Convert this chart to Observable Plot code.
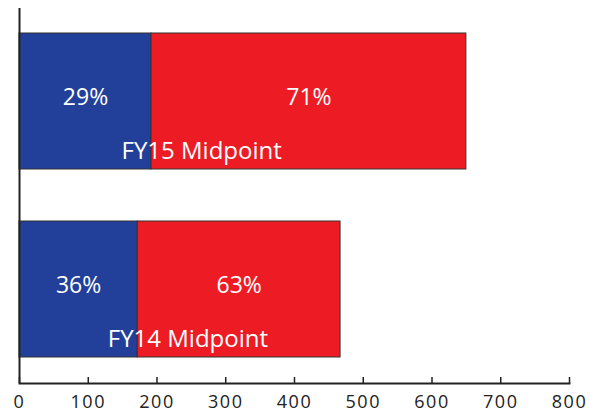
<!DOCTYPE html>
<html><head><meta charset="utf-8">
<script src="https://cdn.jsdelivr.net/npm/d3@7"></script>
<script src="https://cdn.jsdelivr.net/npm/@observablehq/plot@0.6"></script>
<style>
body{margin:0;background:#fff;}
g[aria-label="x-axis tick label"] text{letter-spacing:1.5px;}
g[aria-label="pct"] text{letter-spacing:2px;}
</style>
</head><body><div id="chart"></div>
<script>
const categories = ["FY15 Midpoint", "FY14 Midpoint"];
const blueValues = [192, 172];
const redValues = [458, 295];
const bluePct = ["29%", "36%"];
const redPct = ["71%", "63%"];
const xTicks = [0, 100, 200, 300, 400, 500, 600, 700, 800];

const rows = categories.flatMap((c, i) => [
  {cat: c, part: "a", value: blueValues[i], label: bluePct[i]},
  {cat: c, part: "b", value: redValues[i], label: redPct[i]}
]);
const blueRows = categories.map((c, i) => ({cat: c, blue: blueValues[i]}));

const plot = Plot.plot({
  width: 590, height: 412,
  marginLeft: 19, marginRight: 21, marginTop: 8, marginBottom: 29,
  x: {domain: [0, 800]},
  y: {domain: categories, paddingInner: 0.275, paddingOuter: 0.132, axis: null},
  color: {domain: ["a", "b"], range: ["#22409A", "#ED1C24"]},
  style: {fontFamily: "'Open Sans', sans-serif", background: "#fff", color: "#222"},
  marks: [
    Plot.barX(rows, Plot.stackX({x: "value", y: "cat", fill: "part", stroke: "#333", strokeWidth: 1})),
    Plot.text(rows, Plot.stackX({x: "value", y: "cat", text: "label", fill: "white", fontSize: 23, dy: -4, ariaLabel: "pct"})),
    Plot.text(blueRows, {x: "blue", y: "cat", text: "cat", textAnchor: "start", dx: -30, dy: 50, fill: "white", fontSize: 24}),
    Plot.ruleX(xTicks, {x: d => d, insetTop: 369, stroke: "#222", strokeWidth: 1.5}),
    Plot.ruleX([0], {stroke: "#222", strokeWidth: 2}),
    Plot.frame({anchor: "bottom", stroke: "#222", strokeWidth: 2}),
    Plot.axisX({ticks: xTicks, tickSize: 0, tickPadding: 12, fontSize: 18, tickFormat: d => String(d), fill: "#222"})
  ]
});
document.getElementById("chart").appendChild(plot);
</script>
</body></html>
